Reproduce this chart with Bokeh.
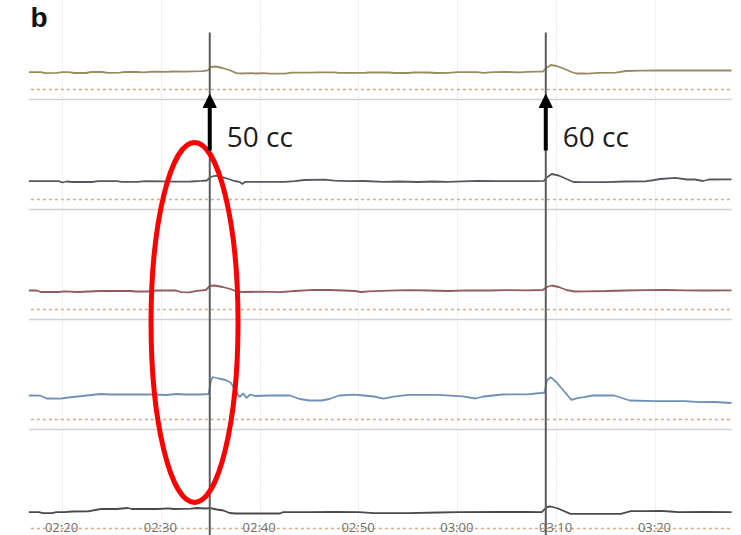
from bokeh.plotting import figure
from bokeh.models import Range1d, Grid, FixedTicker, Arrow, NormalHead, Label
from bokeh.core.properties import value
from bokeh.embed import file_html
from bokeh.resources import INLINE

# ---------------- data ----------------
# time axis in seconds (02:20 = 140 s)
tick_times = [140, 150, 160, 170, 180, 190, 200]
tick_labels = ["02:20", "02:30", "02:40", "02:50", "03:00", "03:10", "03:20"]

event_times = [154.9, 188.9]
event_labels = ["50 cc", "60 cc"]

t_start, t_end = 136.6, 207.7

ch1_t = [136.6, 137.8, 138.3, 139.4, 140.0, 140.6, 141.2, 142.4, 142.9, 144.0, 144.6, 145.8,
         146.3, 147.5, 148.2, 149.2, 150.4, 151.2, 152.4, 153.2, 154.2, 154.7, 155.0, 155.5,
         156.2, 157.0, 157.6, 158.2, 159.0, 159.6, 160.3, 161.0, 162.5, 163.2, 165.0, 165.8,
         167.5, 168.0, 170.5, 171.0, 173.0, 173.6, 175.0, 175.6, 177.0, 177.8, 179.0, 180.0,
         182.0, 182.6, 183.6, 185.0, 186.2, 187.0, 188.0, 188.6, 188.9, 189.4, 190.0, 190.8,
         191.5, 192.0, 192.6, 193.2, 194.2, 196.0, 197.0, 198.5, 200.0, 202.0, 204.5, 207.7]
ch1_v = [0.4, 0.4, -0.6, -0.4, 0.4, 0.4, -0.5, -0.5, 0.5, 0.5, -0.3, -0.2,
         0.6, 0.5, 0.2, 0.9, 0.7, 1.0, 0.8, 1.2, 1.4, 2.2, 5.5, 6.0,
         4.5, 2.0, -0.6, -1.0, -0.6, -1.0, -0.6, -1.2, -1.2, -0.2, -0.2, 0.2,
         0.2, -0.4, -0.4, 0.0, 0.0, -0.5, -0.5, 0.2, 0.0, -0.5, -0.3, 0.4,
         0.4, -0.3, 0.3, 0.5, 0.2, 0.6, 0.8, 0.8, 4.0, 7.5, 6.5, 3.5,
         0.5, -1.0, -0.8, -1.2, -0.4, -0.2, 1.5, 1.8, 2.0, 2.2, 2.0, 2.0]

ch2_t = [136.6, 139.6, 140.0, 140.4, 141.0, 143.0, 143.6, 145.5, 146.0, 147.6, 148.4, 150.0,
         151.0, 153.0, 154.0, 154.6, 155.0, 155.5, 156.0, 156.8, 157.4, 157.9, 158.2, 158.5,
         160.0, 162.5, 163.5, 164.5, 166.5, 167.5, 169.0, 170.5, 172.5, 174.0, 176.0, 177.5,
         179.0, 180.5, 182.0, 184.0, 186.0, 188.0, 188.7, 189.0, 189.5, 190.2, 191.0, 191.7,
         192.5, 195.0, 197.0, 199.0, 200.5, 202.0, 203.2, 204.0, 204.8, 205.4, 207.7]
ch2_v = [0.3, 0.3, -1.0, 0.0, -0.5, -0.5, 0.3, 0.3, -0.4, -0.4, 0.4, 0.2,
         -0.2, 0.0, 0.6, 1.0, 4.5, 5.8, 4.8, 2.5, 0.5, -0.3, -2.4, -0.3,
         -0.3, -0.4, 0.3, 1.5, 1.8, 0.8, 0.3, 0.5, -0.3, 0.0, -0.5, 0.0,
         -0.3, 0.2, 0.6, 0.4, 0.3, 0.4, 0.6, 4.0, 7.5, 6.0, 2.5, -0.5,
         -0.7, -0.6, 0.0, 0.2, 2.5, 3.6, 2.0, 2.0, 0.5, 2.0, 2.2]

ch3_t = [136.6, 137.4, 137.8, 139.6, 140.2, 141.5, 143.8, 146.9, 147.4, 148.8, 149.5, 151.5,
         152.0, 152.8, 153.6, 154.5, 154.9, 155.4, 156.2, 157.0, 157.6, 158.3, 160.0, 162.0,
         163.5, 165.4, 167.0, 168.5, 169.6, 170.2, 171.0, 173.0, 175.0, 177.0, 179.0, 181.0,
         183.0, 185.0, 187.0, 188.6, 189.0, 189.5, 190.2, 191.0, 191.8, 193.0, 195.0, 197.0,
         199.0, 201.0, 203.0, 205.0, 207.7]
ch3_v = [0.0, 0.0, -1.5, -1.5, -0.8, -1.5, -0.5, -0.5, -1.0, -1.0, 0.0, 0.0,
         -1.6, -1.8, -0.3, 0.5, 4.5, 5.0, 3.5, 1.5, -1.0, -1.5, -1.2, -1.6,
         -0.5, 0.6, 0.5, 0.0, -0.5, -1.5, -0.8, -0.2, 0.3, 0.0, -0.5, 0.2,
         0.0, 0.4, 0.2, 0.5, 3.5, 5.0, 3.5, 0.5, -1.0, -0.8, -0.5, 0.0,
         0.3, 0.5, 0.2, 0.0, 0.2]

ch4_t = [136.6, 137.8, 138.4, 139.8, 140.6, 142.0, 143.8, 145.0, 147.0, 149.0, 150.5, 151.5,
         152.5, 154.0, 154.8, 155.0, 155.2, 155.8, 156.5, 157.0, 157.4, 157.9, 158.3, 158.6,
         159.0, 159.5, 161.0, 163.0, 164.0, 165.0, 166.2, 167.0, 168.0, 169.5, 170.5, 171.5,
         172.5, 173.5, 175.0, 178.0, 180.5, 181.8, 182.6, 184.5, 187.0, 188.4, 188.8, 189.0,
         189.4, 190.0, 190.6, 191.2, 191.5, 192.2, 192.8, 193.6, 195.8, 196.6, 197.4, 200.0,
         203.0, 204.5, 206.0, 207.7]
ch4_v = [1.0, 0.8, -2.0, -2.2, -1.0, 0.5, 2.5, 2.0, 2.2, 2.0, 1.5, 2.5,
         2.0, 2.0, 2.5, 15.0, 19.5, 18.0, 16.5, 14.0, 8.0, -0.5, 3.0, -1.5,
         2.0, 0.5, 1.0, 1.0, -2.5, -4.0, -4.0, -2.5, 1.0, 1.8, 1.0, 0.0,
         -2.2, -0.2, 1.7, 1.7, 0.2, -2.0, 0.0, 2.0, 2.2, 3.5, 4.0, 16.0,
         19.3, 14.0, 7.0, 0.0, -3.3, -1.3, -0.7, 1.0, 1.0, -1.5, -4.0, -4.7,
         -4.7, -5.7, -5.5, -6.5]

ch5_t = [136.6, 137.6, 138.0, 138.9, 139.4, 140.2, 141.0, 142.6, 143.6, 144.0, 145.5, 146.6,
         147.0, 149.6, 150.8, 151.2, 153.0, 153.6, 154.4, 155.0, 155.6, 156.3, 156.9, 157.5,
         159.0, 162.0, 162.3, 165.0, 167.5, 170.0, 171.5, 175.0, 178.0, 180.0, 184.0, 187.0,
         188.5, 189.0, 189.4, 190.0, 190.6, 191.4, 193.0, 196.5, 197.5, 199.0, 200.5, 201.5,
         202.3, 205.0, 207.7]
ch5_v = [1.3, 1.3, 0.3, 0.3, 1.3, 1.3, 2.0, 2.2, 4.0, 4.7, 4.5, 5.5,
         4.5, 4.5, 5.2, 4.5, 4.8, 5.5, 5.0, 5.3, 4.0, 3.0, 0.5, 0.0,
         0.0, 0.0, 1.3, 1.3, 1.6, 1.3, 0.3, 0.3, 1.0, 1.3, 1.5, 1.5,
         1.3, 6.5, 7.0, 5.5, 3.0, -0.3, -0.3, -0.3, 2.3, 2.3, 2.6, 2.0,
         1.3, 1.5, 1.3]

channel_t = [ch1_t, ch2_t, ch3_t, ch4_t, ch5_t]
channel_v = [ch1_v, ch2_v, ch3_v, ch4_v, ch5_v]
channel_colors = ["#9a8a62", "#5a5660", "#955a5c", "#6f90b8", "#4a4a4a"]

# ---------------- layout (vertical stacking) ----------------
baselines = [455, 346, 237, 131, 14]
zero_lines = [438, 328, 218, 108, -1]
separators = [428, 318, 208, 98]

W, H = 741, 535
PX_PER_S = 9.883
x0 = 140 - 62 / PX_PER_S
x1 = x0 + W / PX_PER_S

p = figure(width=W, height=H, output_backend="svg", toolbar_location=None,
           x_range=Range1d(x0, x1), y_range=Range1d(-8, 527),
           x_axis_location=None, y_axis_location=None, min_border=0)
p.outline_line_color = None
p.background_fill_color = "white"
p.border_fill_color = "white"
p.xgrid.visible = False
p.ygrid.visible = False

p.add_layout(Grid(dimension=0, ticker=FixedTicker(ticks=tick_times),
                  grid_line_color="#d6d6d6", grid_line_dash="1 2", grid_line_width=1))

# separators and dotted zero lines
p.segment(x0=[t_start] * len(separators), x1=[t_end] * len(separators),
          y0=separators, y1=separators, line_color="#d0d0d0", line_width=1.5)
p.segment(x0=[t_start + 0.2] * len(zero_lines), x1=[t_end] * len(zero_lines),
          y0=zero_lines, y1=zero_lines, line_color="#e2a878", line_width=1.5,
          line_dash="3 3")

# traces
for ts, vs, base, col in zip(channel_t, channel_v, baselines, channel_colors):
    p.line(ts, [base + v for v in vs], line_color=col, line_width=1.8)

# event lines
p.segment(x0=event_times, x1=event_times, y0=[-8, -8], y1=[495, 495],
          line_color="#5c5c5c", line_width=2)

# arrows + labels
for t in event_times:
    p.add_layout(Arrow(end=NormalHead(size=13, fill_color="black", line_color="black"),
                       x_start=t, y_start=377, x_end=t, y_end=433,
                       line_color="black", line_width=4))
p.text(x=event_times, y=[392, 392], text=event_labels, x_offset=17,
       text_font=value("Open Sans"), text_font_size="28px", text_color="#1c1c1c",
       text_align="left", text_baseline="alphabetic")

# time tick labels
p.text(x=tick_times, y=[1] * len(tick_times), text=tick_labels, x_offset=-1,
       text_font=value("Open Sans"), text_font_size="13px", text_color="#707070",
       text_align="center", text_baseline="alphabetic")

# red ellipse highlight
p.ellipse(x=[153.36], y=[205], width=87, height=360, width_units="screen",
          height_units="screen", fill_color=None, line_color="#ff0000", line_width=5)

# panel letter
p.add_layout(Label(x=30, y=503, x_units="screen", y_units="screen", text="b",
                   text_font="Liberation Sans", text_font_style="bold",
                   text_font_size="28px", text_color="#111111"))

open("out.html", "w").write(file_html(p, INLINE))
